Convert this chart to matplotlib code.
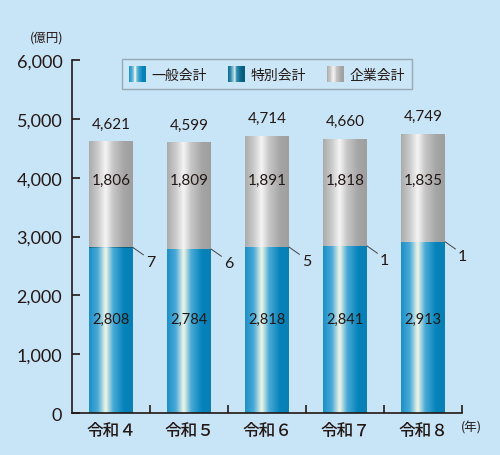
import matplotlib as mpl
import matplotlib.pyplot as plt
import numpy as np
from matplotlib.colors import LinearSegmentedColormap
from matplotlib.legend_handler import HandlerBase
from matplotlib.patches import Rectangle

# data (億円)
years = ["令和４", "令和５", "令和６", "令和７", "令和８"]
general = [2808, 2784, 2818, 2841, 2913]
special = [7, 6, 5, 1, 1]
enterprise = [1806, 1809, 1891, 1818, 1835]
totals = [4621, 4599, 4714, 4660, 4749]
series_names = ["一般会計", "特別会計", "企業会計"]

BG = "#c8e4f7"
INK = "#231815"
JP = ["Noto Sans CJK JP", "DejaVu Sans"]

cmaps = {
  "general": LinearSegmentedColormap.from_list("g", [(0, "#1b8fc6"), (0.2, "#4aaad8"), (0.38, "#f2f7e6"), (0.55, "#49aad6"), (0.8, "#0583bb"), (1, "#0a7fb4")]),
  "special": LinearSegmentedColormap.from_list("s", [(0, "#0b6a8f"), (0.2, "#3a8fb0"), (0.38, "#d6edf4"), (0.55, "#2a87a8"), (0.8, "#065f82"), (1, "#055a7c")]),
  "enterprise": LinearSegmentedColormap.from_list("e", [(0, "#ababab"), (0.2, "#cbcbcb"), (0.38, "#f5f5f5"), (0.55, "#c6c6c6"), (0.8, "#a6a6a6"), (1, "#9e9e9e")]),
}


class GradientHandler(HandlerBase):
  def __init__(self, cmap, n=24):
    super().__init__()
    self.cmap = cmap
    self.n = n
  def create_artists(self, legend, orig_handle, xdescent, ydescent, width, height, fontsize, trans):
    arts = []
    w = width / self.n
    for i in range(self.n):
      r = Rectangle((-xdescent + i * w, -ydescent), w * 1.05, height,
                    facecolor=self.cmap((i + 0.5) / self.n), edgecolor="none", transform=trans)
      arts.append(r)
    return arts


fig = plt.figure(figsize=(5, 4.56), dpi=100, facecolor=BG)
ax = fig.add_axes([0.144, 0.0921, 0.78, 0.774])
ax.set_facecolor(BG)

x = np.arange(len(years))
width = 0.56
grad = np.linspace(0, 1, 256).reshape(1, -1)

bottoms = np.zeros(len(years))
for key, vals in zip(["general", "special", "enterprise"], [general, special, enterprise]):
  bars = ax.bar(x, vals, width, bottom=bottoms, facecolor="none", edgecolor="none", label=key)
  for b in bars:
    bb = b.get_bbox()
    im = ax.imshow(grad, cmap=cmaps[key], extent=[bb.x0, bb.x1, bb.y0, bb.y1],
                   aspect="auto", interpolation="bicubic", zorder=1)
    im.set_clip_path(b)
  bottoms = bottoms + np.array(vals)

# value labels
for i in range(len(years)):
  ax.text(x[i], 1600, f"{general[i]:,}", ha="center", va="center", fontsize=10.5, color=INK, family="Lato", zorder=3)
  ax.text(x[i], 3960, f"{enterprise[i]:,}", ha="center", va="center", fontsize=11, color=INK, family="Lato", zorder=3)
  ax.text(x[i], totals[i] + 300, f"{totals[i]:,}", ha="center", va="center", fontsize=11, color=INK, family="Lato", zorder=3)
  # leader line for special account
  y0 = general[i] + special[i]
  x0 = x[i] + width / 2
  ax.plot([x0, x0 + 0.14], [y0, y0 - 130], color="#444444", lw=0.7, zorder=3, solid_capstyle="butt")
  ax.text(x0 + 0.17, y0 - 240, f"{special[i]}", ha="left", va="center", fontsize=11.5, color=INK, family="Lato", zorder=3)

ax.set_xlim(-0.5, 4.5)
ax.set_ylim(0, 6000)

for s in ["top", "right"]:
  ax.spines[s].set_visible(False)
for s in ["left", "bottom"]:
  ax.spines[s].set_color(INK)
  ax.spines[s].set_linewidth(1.2)

ax.set_yticks(np.arange(0, 6001, 1000))
ax.set_yticklabels([f"{v:,}" for v in range(0, 6001, 1000)], family="Lato", fontsize=13, color=INK)
ax.tick_params(axis="y", direction="in", length=6, width=1.2, color=INK, pad=7)

ax.set_xticks(x)
ax.set_xticklabels(years, family=JP, fontsize=12, weight="medium", color=INK)
ax.tick_params(axis="x", which="major", length=0, pad=6)
ax.set_xticks(x + 0.5, minor=True)
ax.tick_params(axis="x", which="minor", direction="in", length=6, width=1.2, color=INK)

ax.text(-0.064, 1.065, "(億円)", transform=ax.transAxes, ha="center", va="center",
        fontsize=9, color=INK, family=JP)
ax.text(1.025, -0.04, "(年)", transform=ax.transAxes, ha="center", va="center",
        fontsize=9, color=INK, family=JP, clip_on=False)

handles = [Rectangle((0, 0), 1, 1) for _ in range(3)]
handler_map = {h: GradientHandler(cmaps[k]) for h, k in zip(handles, ["general", "special", "enterprise"])}
leg = ax.legend(handles, series_names, handler_map=handler_map, loc="upper center",
                bbox_to_anchor=(0.5, 1.003), ncol=3, frameon=True, fancybox=False,
                prop={"family": JP, "size": 10},
                handlelength=1.25, handleheight=1.4, handletextpad=0.4, columnspacing=1.5,
                borderpad=0.5, borderaxespad=0.0)
leg.get_frame().set_facecolor("#cde7f8")
leg.get_frame().set_edgecolor("#8c9aa6")
leg.get_frame().set_linewidth(1.0)
for t in leg.get_texts():
  t.set_color(INK)

fig.savefig("out.png", dpi=100, facecolor=BG)
